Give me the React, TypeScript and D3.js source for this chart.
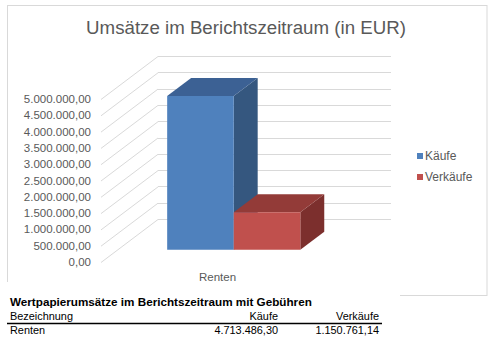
import React from "react";
import * as d3 from "d3";

const categories = ["Renten"];
const seriesNames = ["Käufe", "Verkäufe"];
const kaeufe = [4713486.3];
const verkaeufe = [1150761.14];
const yTicks = [0, 500000, 1000000, 1500000, 2000000, 2500000, 3000000, 3500000, 4000000, 4500000, 5000000];
const tableTitle = "Wertpapierumsätze im Berichtszeitraum mit Gebühren";
const tableHeader = ["Bezeichnung", "Käufe", "Verkäufe"];
const tableRows = [["Renten", "4.713.486,30", "1.150.761,14"]];

const W = 501;
const H = 355;
const FONT = "'Liberation Sans', Arial, sans-serif";
const GREY = "#595959";

const fmt = (v: number) => {
  const s = d3.format(",.2f")(v);
  return s.replace(/,/g, "#").replace(/\./g, ",").replace(/#/g, ".");
};

export default function App() {
  const frontLeft = 101;
  const frontRight = 334;
  const DX = 57;
  const DY = 43;
  const y = d3.scaleLinear().domain([0, 5000000]).range([262, 99]);
  const xCat = d3.scaleBand().domain(categories).range([frontLeft, frontRight]).paddingOuter(0.375).paddingInner(0);
  const xSer = d3.scaleBand().domain(seriesNames).range([0, xCat.bandwidth()]);
  const d0 = 0.285;
  const d1 = 0.705;
  const proj = (x: number, v: number, d: number): [number, number] => [x + d * DX, y(v) - d * DY];
  const pts = (arr: [number, number][]) => arr.map((p) => p.join(",")).join(" ");

  const colors = [
    { front: "#4F81BD", top: "#3C6194", side: "#35577F" },
    { front: "#C0504D", top: "#933B38", side: "#7C2F2D" },
  ];
  const values = [kaeufe, verkaeufe];

  const bars: JSX.Element[] = [];
  categories.forEach((c, ci) => {
    seriesNames.forEach((s, si) => {
      const v = values[si][ci];
      const x0 = (xCat(c) as number) + (xSer(s) as number);
      const x1 = x0 + xSer.bandwidth();
      const col = colors[si];
      const side = [proj(x1, 0, d0), proj(x1, 0, d1), proj(x1, v, d1), proj(x1, v, d0)] as [number, number][];
      const top = [proj(x0, v, d0), proj(x1, v, d0), proj(x1, v, d1), proj(x0, v, d1)] as [number, number][];
      const front = [proj(x0, 0, d0), proj(x1, 0, d0), proj(x1, v, d0), proj(x0, v, d0)] as [number, number][];
      bars.push(
        <g key={c + s}>
          <polygon points={pts(side)} fill={col.side} />
          <polygon points={pts(top)} fill={col.top} />
          <polygon points={pts(front)} fill={col.front} />
        </g>
      );
    });
  });

  const tf = 10.9;

  return (
    <svg width={W} height={H} style={{ position: "absolute", left: 0, top: 0, background: "#fff" }}>
      <rect x={0} y={0} width={W} height={H} fill="#fff" />
      {/* chart frame */}
      <rect x={7.5} y={5.5} width={479.5} height={290} fill="#fff" stroke="#D9D9D9" strokeWidth={1} />
      <text x={246} y={34} textAnchor="middle" fontFamily={FONT} fontSize={18.7} fill={GREY}>
        Umsätze im Berichtszeitraum (in EUR)
      </text>
      {/* walls */}
      {yTicks.map((t) => {
        const a = proj(frontLeft, t, 0);
        const b = proj(frontLeft, t, 1);
        const e = proj(frontRight, t, 1);
        return (
          <g key={t}>
            <line x1={a[0]} y1={a[1] + 0.5} x2={b[0]} y2={b[1] + 0.5} stroke="#D9D9D9" strokeWidth={1} />
            <line x1={b[0]} y1={Math.round(b[1]) + 0.5} x2={e[0]} y2={Math.round(e[1]) + 0.5} stroke="#D9D9D9" strokeWidth={1.2} />
            <text x={91} y={a[1]} dy="0.35em" textAnchor="end" fontFamily={FONT} fontSize={11.5} fill={GREY}>
              {fmt(t)}
            </text>
          </g>
        );
      })}
      {bars}
      {categories.map((c) => (
        <text key={c} x={(xCat(c) as number) + xCat.bandwidth() / 2} y={281} textAnchor="middle" fontFamily={FONT} fontSize={11.5} fill={GREY}>
          {c}
        </text>
      ))}
      {/* legend */}
      {seriesNames.map((s, i) => (
        <g key={s} transform={`translate(417, ${156 + i * 21})`}>
          <rect x={0} y={-3} width={6} height={6} fill={colors[i].front} />
          <text x={8} y={0} dy="0.35em" fontFamily={FONT} fontSize={12} fill={GREY}>
            {s}
          </text>
        </g>
      ))}
      {/* table */}
      <rect x={0} y={282} width={400} height={73} fill="#fff" />
      <text x={10} y={306} fontFamily={FONT} fontSize={11.7} fontWeight="bold" fill="#000">
        {tableTitle}
      </text>
      <text x={10} y={320} fontFamily={FONT} fontSize={tf} fill="#000">{tableHeader[0]}</text>
      <text x={278} y={320} textAnchor="end" fontFamily={FONT} fontSize={tf} fill="#000">{tableHeader[1]}</text>
      <text x={379} y={320} textAnchor="end" fontFamily={FONT} fontSize={tf} fill="#000">{tableHeader[2]}</text>
      <line x1={7} x2={382} y1={323.5} y2={323.5} stroke="#000" strokeWidth={1.3} />
      {tableRows.map((r, i) => (
        <g key={i}>
          <text x={10} y={334 + i * 13} fontFamily={FONT} fontSize={tf} fill="#000">{r[0]}</text>
          <text x={278} y={334 + i * 13} textAnchor="end" fontFamily={FONT} fontSize={tf} fill="#000">{r[1]}</text>
          <text x={379} y={334 + i * 13} textAnchor="end" fontFamily={FONT} fontSize={tf} fill="#000">{r[2]}</text>
        </g>
      ))}
    </svg>
  );
}
